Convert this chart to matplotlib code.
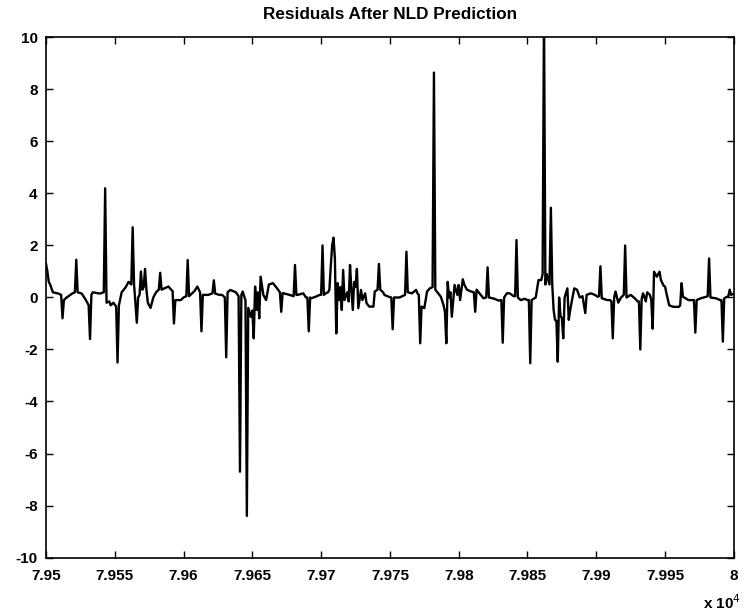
import numpy as np
import matplotlib
matplotlib.use("Agg")
import matplotlib.pyplot as plt

plt.rcParams['font.family'] = ['Liberation Sans', 'DejaVu Sans']
plt.rcParams['axes.unicode_minus'] = False

# sample number relative to 79500 and residual value after the NLD predictor
start = 79500
offsets = [
    0, 1, 2, 3, 5, 9, 11, 12, 13, 15, 19, 21, 22, 23, 26, 29, 31, 32, 33, 34,
    39, 42, 43, 44, 46, 47, 49, 51, 52, 53, 55, 58, 60, 62, 63, 64, 65, 66, 67, 68,
    69, 70, 71, 72, 73, 74, 76, 78, 80, 82, 83, 84, 86, 89, 91, 92, 93, 94, 98, 100,
    102, 103, 104, 106, 108, 110, 112, 113, 114, 118, 121, 122, 123, 126, 128, 130, 131, 132, 134, 138,
    140, 141, 142, 143, 144, 145, 146, 147, 149, 150, 151, 152, 153, 154, 155, 156, 158, 160, 162, 165,
    168, 170, 171, 172, 177, 180, 181, 182, 183, 187, 189, 190, 191, 192, 193, 196, 199, 200, 201, 202,
    203, 205, 206, 207, 208, 209, 210, 211, 212, 213, 214, 215, 216, 217, 219, 220, 221, 222, 223, 224,
    225, 226, 227, 229, 230, 232, 233, 235, 238, 239, 241, 242, 243, 245, 246, 249, 251, 252, 253, 257,
    261, 262, 263, 266, 269, 270, 271, 272, 273, 275, 277, 279, 281, 282, 283, 287, 289, 290, 291, 292,
    293, 294, 295, 297, 299, 300, 301, 303, 304, 306, 309, 311, 312, 313, 314, 316, 318, 320, 321, 322,
    326, 329, 331, 332, 333, 335, 337, 340, 341, 342, 343, 345, 348, 350, 351, 352, 353, 356, 358, 360,
    361, 362, 363, 364, 366, 367, 368, 369, 370, 371, 372, 373, 374, 375, 376, 377, 379, 380, 381, 382,
    384, 386, 388, 390, 392, 393, 396, 399, 401, 402, 403, 404, 408, 410, 411, 412, 413, 414, 416, 418,
    420, 421, 422, 425, 428, 430, 431, 432, 433, 434, 436, 437, 439, 440, 441, 442, 444, 446, 447, 449,
    450, 451, 453, 456, 460, 461, 462, 463, 467, 470, 471, 472, 473, 476, 480, 481, 482, 483, 487, 490,
    491, 492, 493, 496, 497, 498, 500,
]
residual = [
    1.3, 1.0, 0.6, 0.5, 0.2, 0.15, 0.1, -0.8, -0.1, 0.0, 0.15, 0.2, 1.45, 0.2, 0.15, -0.1, -0.3, -1.6, 0.1, 0.2,
    0.15, 0.2, 4.2, -0.2, -0.15, -0.3, -0.2, -0.35, -2.5, -0.3, 0.2, 0.4, 0.6, 0.5, 2.7, 0.5, -0.2, -0.97, 0.0, 0.1,
    1.0, 0.3, 0.4, 1.1, 0.3, -0.2, -0.4, 0.0, 0.2, 0.3, 0.95, 0.3, 0.35, 0.42, 0.3, 0.25, -1.0, -0.1, -0.1, 0.0,
    0.05, 1.44, 0.05, 0.15, 0.25, 0.42, 0.2, -1.3, 0.1, 0.1, 0.16, 0.66, 0.15, 0.1, 0.1, 0.0, -2.3, 0.2, 0.29, 0.2,
    0.05, -6.7, 0.1, 0.23, 0.05, -0.1, -8.4, -0.4, -0.75, -0.5, -1.57, 0.42, -0.48, 0.2, -0.8, 0.8, 0.1, -0.1, 0.5, 0.55,
    0.35, 0.2, -0.55, 0.17, 0.1, 0.05, 1.25, 0.1, 0.1, 0.16, 0.0, 0.0, -1.3, 0.0, -0.03, 0.03, 0.1, 0.1, 2.0, 0.1,
    0.15, 0.2, 0.3, 1.2, 2.0, 2.3, 1.5, -1.38, 0.55, -0.1, 0.4, -0.48, 1.06, -0.1, 0.2, -0.15, 1.25, 0.3, -0.48, 0.6,
    0.4, 1.1, -0.41, 0.29, -0.1, 0.16, -0.22, -0.35, -0.35, 0.23, 0.3, 1.29, 0.3, 0.2, 0.1, 0.03, 0.0, -1.22, 0.0, 0.0,
    0.1, 1.76, 0.2, 0.16, 0.29, 0.16, 0.1, -1.76, -0.35, -0.41, 0.23, 0.35, 0.4, 8.65, 0.3, 0.03, -0.3, -0.55, -1.76, 0.6,
    0.0, 0.2, -0.74, 0.48, 0.1, 0.48, -0.1, 0.7, 0.5, 0.3, 0.23, 0.2, -0.55, 0.3, 0.23, 0.1, -0.03, 0.0, 1.16, 0.0,
    -0.05, -0.12, -0.1, -1.74, 0.0, 0.16, 0.16, 0.05, 0.05, 2.21, 0.0, -0.1, -0.05, -0.1, -0.1, -2.53, -0.1, 0.0, 0.67, 0.67,
    0.9, 11.0, 0.5, 0.9, 0.5, 3.45, 0.5, -0.48, -0.86, -0.9, -2.47, 0.0, -0.7, -0.8, -1.57, 0.0, 0.35, -0.86, -0.5, -0.2,
    0.35, 0.3, 0.0, 0.05, -0.6, 0.1, 0.16, 0.1, 0.03, 0.05, 1.2, -0.03, -0.1, -0.1, -0.15, -1.57, 0.0, 0.23, -0.2, 0.0,
    0.1, 2.0, 0.0, 0.1, -0.03, -0.15, -0.15, -2.0, -0.05, 0.16, -0.15, 0.2, 0.1, -0.1, -1.2, 0.99, 0.8, 0.99, 0.67, 0.45,
    0.42, 0.16, -0.3, -0.36, -0.36, -0.3, 0.55, 0.03, -0.1, -0.1, -0.1, -1.35, -0.1, -0.03, 0.03, 0.05, 1.5, 0.0, -0.03, -0.1,
    -0.1, -1.7, -0.03, 0.05, 0.3, 0.1, 0.15,
]

x_ticks = [79500, 79550, 79600, 79650, 79700, 79750, 79800, 79850, 79900, 79950, 80000]
x_tick_labels = ['7.95', '7.955', '7.96', '7.965', '7.97', '7.975', '7.98', '7.985', '7.99', '7.995', '8']
y_ticks = [-10, -8, -6, -4, -2, 0, 2, 4, 6, 8, 10]

samples = start + np.array(offsets)

fig = plt.figure(figsize=(7.42, 6.14), dpi=100)
ax = fig.add_axes([0.062, 0.092, 0.927, 0.847])

ax.plot(samples, residual, color='black', linewidth=1.7)

ax.set_xlim(79500, 80000)
ax.set_ylim(-10, 10)
ax.set_xticks(x_ticks)
ax.set_xticklabels(x_tick_labels)
ax.set_yticks(y_ticks)
ax.tick_params(direction='in', length=5, width=1, top=True, right=True,
               labelsize=11)
ax.tick_params(axis='x', pad=8)
ax.tick_params(axis='y', pad=6)
for lbl in ax.get_xticklabels() + ax.get_yticklabels():
    lbl.set_fontweight('bold')
for sp in ax.spines.values():
    sp.set_linewidth(1.2)

ax.set_title('Residuals After NLD Prediction', fontsize=12.3, fontweight='bold', pad=13)
fig.text(0.947, 0.008, r'x 10$^{4}$', fontsize=11, fontweight='bold')

fig.savefig('out.png', dpi=100)
